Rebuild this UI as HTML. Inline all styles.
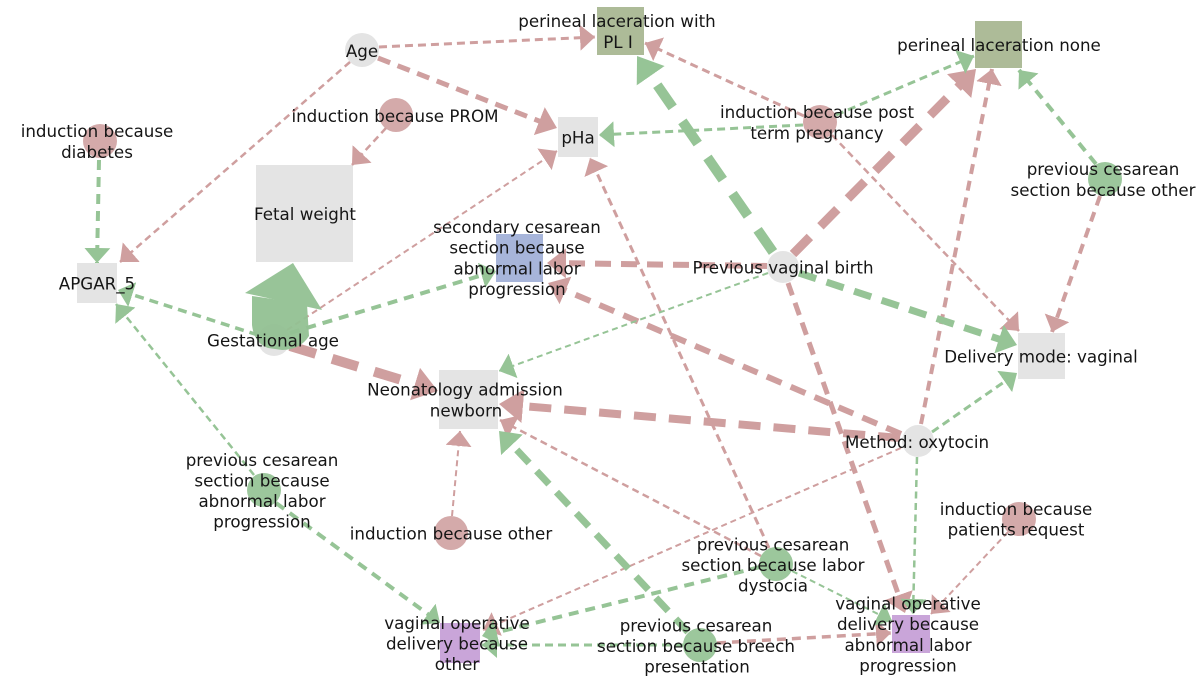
<!DOCTYPE html>
<html>
<head>
<meta charset="utf-8">
<style>
  html,body{margin:0;padding:0;background:#fff;}
  svg{display:block;}
  text{font-family:"DejaVu Sans","Liberation Sans",sans-serif;font-size:16.7px;fill:#151515;text-anchor:middle;}
</style>
</head>
<body>
<svg width="1200" height="682" viewBox="0 0 1200 682" xmlns="http://www.w3.org/2000/svg">
<defs>
  <marker id="rs" markerUnits="userSpaceOnUse" markerWidth="15" markerHeight="26" viewBox="0 0 15 26" refX="15" refY="13" orient="auto"><path d="M0,0 L15,13 L0,26 Z" fill="#cf9f9f"/></marker>
  <marker id="gs" markerUnits="userSpaceOnUse" markerWidth="15" markerHeight="26" viewBox="0 0 15 26" refX="15" refY="13" orient="auto"><path d="M0,0 L15,13 L0,26 Z" fill="#96c496"/></marker>
  <marker id="rm" markerUnits="userSpaceOnUse" markerWidth="19" markerHeight="30" viewBox="0 0 19 30" refX="11" refY="15" orient="auto"><path d="M0,0 L19,15 L0,30 Z" fill="#cf9f9f"/></marker>
  <marker id="gm" markerUnits="userSpaceOnUse" markerWidth="19" markerHeight="30" viewBox="0 0 19 30" refX="11" refY="15" orient="auto"><path d="M0,0 L19,15 L0,30 Z" fill="#96c496"/></marker>
  <marker id="rl" markerUnits="userSpaceOnUse" markerWidth="24" markerHeight="34" viewBox="0 0 24 34" refX="16" refY="17" orient="auto"><path d="M0,0 L24,17 L0,34 Z" fill="#cf9f9f"/></marker>
  <marker id="gl" markerUnits="userSpaceOnUse" markerWidth="24" markerHeight="34" viewBox="0 0 24 34" refX="16" refY="17" orient="auto"><path d="M0,0 L24,17 L0,34 Z" fill="#96c496"/></marker>
</defs>

<rect width="1200" height="682" fill="#fff"/>

<!-- Nodes -->
<g>
  <circle cx="362" cy="50" r="17" fill="#e4e4e4"/>
  <rect x="597" y="7" width="47" height="48" fill="#adbb98"/>
  <rect x="975" y="21" width="47" height="47" fill="#adbb98"/>
  <circle cx="396" cy="115" r="17" fill="#d4aaaa"/>
  <circle cx="100" cy="141" r="17" fill="#d4aaaa"/>
  <rect x="558" y="117" width="40" height="40" fill="#e4e4e4"/>
  <circle cx="820" cy="122" r="17" fill="#d4aaaa"/>
  <circle cx="1105" cy="179" r="17" fill="#9cc79c"/>
  <rect x="256" y="165" width="97" height="97" fill="#e4e4e4"/>
  <rect x="77" y="263" width="40" height="40" fill="#e4e4e4"/>
  <circle cx="274" cy="340" r="16" fill="#e4e4e4"/>
  <rect x="496" y="234" width="47" height="48" fill="#a7b5da"/>
  <circle cx="783" cy="267" r="16" fill="#e4e4e4"/>
  <rect x="1018" y="333" width="47" height="46" fill="#e4e4e4"/>
  <rect x="439" y="370" width="59" height="59" fill="#e4e4e4"/>
  <circle cx="918" cy="441" r="16" fill="#e4e4e4"/>
  <circle cx="264" cy="490" r="17" fill="#9cc79c"/>
  <circle cx="451" cy="533" r="17" fill="#d4aaaa"/>
  <circle cx="1019" cy="519" r="17" fill="#d4aaaa"/>
  <circle cx="776" cy="564" r="17" fill="#9cc79c"/>
  <circle cx="700" cy="645" r="17" fill="#9cc79c"/>
  <rect x="440" y="623" width="40" height="40" fill="#c9a5d9"/>
  <rect x="892" y="615" width="38" height="38" fill="#c9a5d9"/>
</g>

<!-- Edges -->
<g fill="none" stroke-linecap="butt">
  <!-- red small -->
  <path d="M379,47 L595,37" stroke="#cf9f9f" stroke-width="3" stroke-dasharray="8 5" marker-end="url(#rs)"/>
  <path d="M350,62 L120,262" stroke="#cf9f9f" stroke-width="2.5" stroke-dasharray="7 4.5" marker-end="url(#rs)"/>
  <path d="M386,128 L352,165" stroke="#cf9f9f" stroke-width="2.5" stroke-dasharray="7 4.5" marker-end="url(#rs)"/>
  <path d="M287,330 L557,151" stroke="#cf9f9f" stroke-width="2" stroke-dasharray="6 4" marker-end="url(#rs)"/>
  <path d="M804,116 L645,43" stroke="#cf9f9f" stroke-width="3" stroke-dasharray="8 5" marker-end="url(#rs)"/>
  <path d="M832,135 L1019,331" stroke="#cf9f9f" stroke-width="2.5" stroke-dasharray="7 4.5" marker-end="url(#rs)"/>
  <path d="M1100,196 L1052,332" stroke="#cf9f9f" stroke-width="4" stroke-dasharray="10 7" marker-end="url(#rs)"/>
  <path d="M921,424 L992,69" stroke="#cf9f9f" stroke-width="4" stroke-dasharray="10 7" marker-end="url(#rs)"/>
  <path d="M901,448 L483,630" stroke="#cf9f9f" stroke-width="2" stroke-dasharray="6 4" marker-end="url(#rs)"/>
  <path d="M1008,532 L931,614" stroke="#cf9f9f" stroke-width="2" stroke-dasharray="6 4" marker-end="url(#rs)"/>
  <path d="M717,643 L891,633" stroke="#cf9f9f" stroke-width="3.5" stroke-dasharray="9 6" marker-end="url(#rs)"/>
  <path d="M452,516 L460,431" stroke="#cf9f9f" stroke-width="2" stroke-dasharray="6 4" marker-end="url(#rs)"/>
  <path d="M769,548 L590,158" stroke="#cf9f9f" stroke-width="3" stroke-dasharray="8 5" marker-end="url(#rs)"/>
  <path d="M761,556 L500,420" stroke="#cf9f9f" stroke-width="2.5" stroke-dasharray="7 4.5" marker-end="url(#rs)"/>
  <!-- red medium -->
  <path d="M378,58 L549.5,125.1" stroke="#cf9f9f" stroke-width="5" stroke-dasharray="13 8" marker-end="url(#rm)"/>
  <path d="M767,266 L555,263.1" stroke="#cf9f9f" stroke-width="6" stroke-dasharray="16 10" marker-end="url(#rm)"/>
  <path d="M901,434 L555.4,286.1" stroke="#cf9f9f" stroke-width="6" stroke-dasharray="16 10" marker-end="url(#rm)"/>
  <path d="M788,283 L902.3,605.5" stroke="#cf9f9f" stroke-width="5" stroke-dasharray="13 8" marker-end="url(#rm)"/>
  <!-- red large -->
  <path d="M290,346 L430.3,388.7" stroke="#cf9f9f" stroke-width="10" stroke-dasharray="27 17" marker-end="url(#rl)"/>
  <path d="M793,254 L970.4,74.7" stroke="#cf9f9f" stroke-width="9" stroke-dasharray="24 15" marker-end="url(#rl)"/>
  <path d="M900,438 L507,404.7" stroke="#cf9f9f" stroke-width="8" stroke-dasharray="22 13" marker-end="url(#rl)"/>

  <!-- green small -->
  <path d="M99,160 L97,263" stroke="#96c496" stroke-width="4" stroke-dasharray="10 7" marker-end="url(#gs)"/>
  <path d="M258,335 L118,290" stroke="#96c496" stroke-width="3.5" stroke-dasharray="9 6" marker-end="url(#gs)"/>
  <path d="M254,475 L116,304" stroke="#96c496" stroke-width="2.5" stroke-dasharray="7 4.5" marker-end="url(#gs)"/>
  <path d="M290,333 L496,271" stroke="#96c496" stroke-width="4" stroke-dasharray="10 7" marker-end="url(#gs)"/>
  <path d="M803,125 L599,135" stroke="#96c496" stroke-width="3" stroke-dasharray="8 5" marker-end="url(#gs)"/>
  <path d="M836,115 L974,56" stroke="#96c496" stroke-width="3" stroke-dasharray="8 5" marker-end="url(#gs)"/>
  <path d="M1096,164 L1019,70" stroke="#96c496" stroke-width="4" stroke-dasharray="10 7" marker-end="url(#gs)"/>
  <path d="M932,432 L1017,373" stroke="#96c496" stroke-width="3" stroke-dasharray="8 5" marker-end="url(#gs)"/>
  <path d="M768,273 L499,371" stroke="#96c496" stroke-width="2" stroke-dasharray="6 4" marker-end="url(#gs)"/>
  <path d="M917,457 L913,614" stroke="#96c496" stroke-width="2.5" stroke-dasharray="7 4.5" marker-end="url(#gs)"/>
  <path d="M792,571 L892,621" stroke="#96c496" stroke-width="2" stroke-dasharray="6 4" marker-end="url(#gs)"/>
  <path d="M760,567 L482,636" stroke="#96c496" stroke-width="4" stroke-dasharray="10 7" marker-end="url(#gs)"/>
  <path d="M683,645 L482,645" stroke="#96c496" stroke-width="3" stroke-dasharray="8 5" marker-end="url(#gs)"/>
  <path d="M276,503 L440,623" stroke="#96c496" stroke-width="4" stroke-dasharray="10 7" marker-end="url(#gs)"/>
  <!-- green medium -->
  <path d="M799,273 L1009.4,342.5" stroke="#96c496" stroke-width="7" stroke-dasharray="18 11" marker-end="url(#gm)"/>
  <path d="M688,632 L504.5,436.8" stroke="#96c496" stroke-width="7" stroke-dasharray="18 11" marker-end="url(#gm)"/>
  <!-- green large -->
  <path d="M773,252 L641.6,62.6" stroke="#96c496" stroke-width="10" stroke-dasharray="27 17" marker-end="url(#gl)"/>
</g>

<!-- Big green arrow Gestational age -> Fetal weight -->
<g fill="#93c193" opacity="0.95">
  <path d="M252,296 L307,304 L309,336 Q300,350 282,350 L268,348 Q254,343 252,325 Z"/>
  <polygon points="245,293 293,263 322,310"/>
</g>

<!-- Labels -->
<g>
  <text x="362" y="57">Age</text>
  <text x="617" y="27">perineal laceration with</text>
  <text x="618" y="48">PL I</text>
  <text x="999" y="51">perineal laceration none</text>
  <text x="395" y="122">induction because PROM</text>
  <text x="97" y="137">induction because</text>
  <text x="97" y="158">diabetes</text>
  <text x="578" y="143.5">pHa</text>
  <text x="817" y="118">induction because post</text>
  <text x="817" y="139">term pregnancy</text>
  <text x="1103" y="175">previous cesarean</text>
  <text x="1103" y="196">section because other</text>
  <text x="305" y="220">Fetal weight</text>
  <text x="97" y="289.5">APGAR_5</text>
  <text x="273" y="346.5">Gestational age</text>
  <text x="517" y="233">secondary cesarean</text>
  <text x="517" y="253.5">section because</text>
  <text x="517" y="274.5">abnormal labor</text>
  <text x="517" y="295">progression</text>
  <text x="783" y="273.5">Previous vaginal birth</text>
  <text x="1041" y="362.5">Delivery mode: vaginal</text>
  <text x="465" y="395.5">Neonatology admission</text>
  <text x="466" y="416.5">newborn</text>
  <text x="917" y="448">Method: oxytocin</text>
  <text x="262" y="466">previous cesarean</text>
  <text x="262" y="486.5">section because</text>
  <text x="262" y="507">abnormal labor</text>
  <text x="262" y="527.5">progression</text>
  <text x="451" y="539.5">induction because other</text>
  <text x="1016" y="515">induction because</text>
  <text x="1016" y="535.5">patients request</text>
  <text x="773" y="550.5">previous cesarean</text>
  <text x="773" y="571">section because labor</text>
  <text x="773" y="591.5">dystocia</text>
  <text x="696" y="631.5">previous cesarean</text>
  <text x="696" y="652">section because breech</text>
  <text x="697" y="672.5">presentation</text>
  <text x="457" y="629">vaginal operative</text>
  <text x="457" y="649.5">delivery because</text>
  <text x="457" y="670">other</text>
  <text x="908" y="609.5">vaginal operative</text>
  <text x="908" y="630">delivery because</text>
  <text x="908" y="651">abnormal labor</text>
  <text x="908" y="671.5">progression</text>
</g>
</svg>
</body>
</html>
